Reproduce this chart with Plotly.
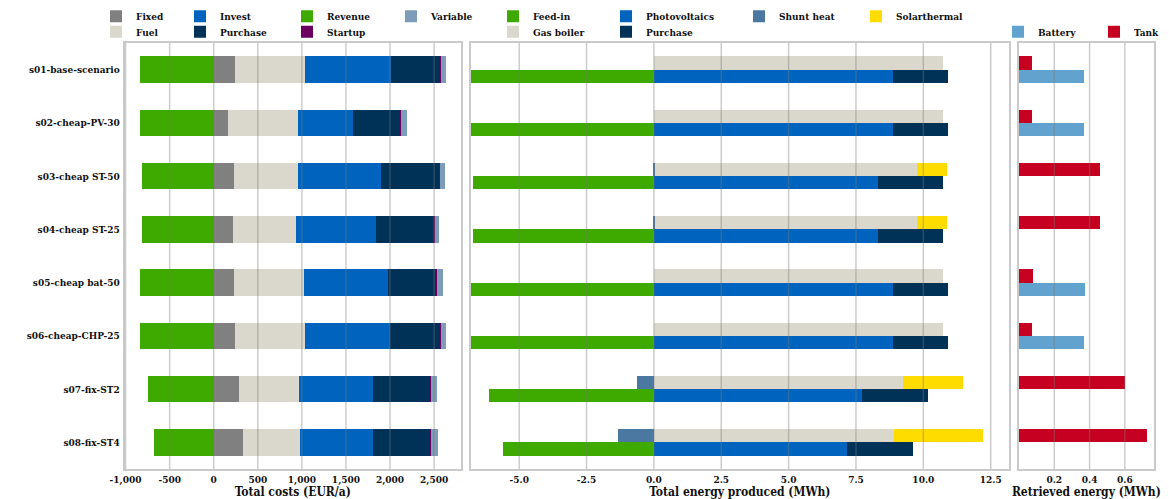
import plotly.graph_objects as go

# ---------------------------------------------------------------- data
scenarios = [
    "s01-base-scenario", "s02-cheap-PV-30", "s03-cheap ST-50", "s04-cheap ST-25",
    "s05-cheap bat-50", "s06-cheap-CHP-25", "s07-fix-ST2", "s08-fix-ST4",
]

# Total costs (EUR/a)
cost_fixed = [238, 159, 223, 212, 227, 238, 280, 322]
cost_fuel = [790, 790, 722, 718, 786, 790, 677, 650]
cost_invest = [975, 620, 945, 900, 960, 967, 839, 824]
cost_purchase = [567, 548, 661, 665, 548, 567, 661, 661]
cost_startup = [5, 5, 5, 4, 5, 5, 5, 5]
cost_variable = [56, 63, 63, 52, 67, 64, 63, 78]
cost_revenue = [-839, -839, -823, -823, -839, -839, -755, -687]

# Heat production (MWh)
heat_gas_boiler = [10.73, 10.73, 9.75, 9.75, 10.73, 10.73, 9.23, 8.91]
heat_solarthermal = [0, 0, 1.10, 1.10, 0, 0, 2.24, 3.31]
heat_shunt = [0, 0, -0.05, -0.05, 0, 0, -0.64, -1.35]

# Electricity production (MWh)
el_feed_in = [-6.79, -6.79, -6.72, -6.72, -6.79, -6.79, -6.14, -5.60]
el_pv = [8.86, 8.87, 8.32, 8.32, 8.87, 8.87, 7.73, 7.16]
el_purchase = [2.03, 2.03, 2.40, 2.40, 2.03, 2.03, 2.42, 2.44]

# Retrieved storage energy (MWh)
st_tank = [0.072, 0.072, 0.458, 0.458, 0.078, 0.072, 0.60, 0.727]
st_battery = [0.369, 0.369, None, None, 0.372, 0.369, None, None]

# axis ticks
cost_ticks = [-1000, -500, 0, 500, 1000, 1500, 2000, 2500]
cost_ticktext = ["-1,000", "-500", "0", "500", "1,000", "1,500", "2,000", "2,500"]
energy_ticks = [-5.0, -2.5, 0.0, 2.5, 5.0, 7.5, 10.0, 12.5]
energy_ticktext = ["-5.0", "-2.5", "0.0", "2.5", "5.0", "7.5", "10.0", "12.5"]
storage_ticks = [0.2, 0.4, 0.6]
storage_ticktext = ["0.2", "0.4", "0.6"]

# ---------------------------------------------------------------- styling
C = {
    "grey": "#808080", "beige": "#dad8cc", "blue": "#0064be", "navy": "#003157",
    "green": "#3eaa00", "purple": "#6c005f", "steel": "#7d9cba", "shunt": "#4b78a0",
    "yellow": "#ffdc00", "battery": "#62a2cf", "tank": "#c60020",
}
FONT = dict(family="DejaVu Serif Condensed, DejaVu Serif, serif", size=10,
            color="#111111", weight="bold")
W, H = 1169, 499

# panel extents in pixels
LEFT_PX = (124.5, 461.0)
MID_PX = (470.7, 1009.0)
RIGHT_PX = (1019.0, 1153.7)
TOP_PX, BOT_PX = 43.0, 469.0

# legend entry placement: (text start px, row centre px)
ROW1, ROW2 = 16.3, 31.7
LEGEND_POS = {
    "Fixed": (136, ROW1), "Fuel": (136, ROW2),
    "Invest": (220, ROW1), "Purchase (EUR)": (220, ROW2),
    "Revenue": (327, ROW1), "Startup": (327, ROW2),
    "Variable": (431, ROW1),
    "Feed-in": (533, ROW1), "Gas boiler": (533, ROW2),
    "Photovoltaics": (646, ROW1), "Purchase (MWh)": (646, ROW2),
    "Shunt heat": (779, ROW1), "Solarthermal": (896, ROW1),
    "Battery": (1038, ROW2), "Tank": (1134, ROW2),
}
TEXT_OFFSET = 40

fig = go.Figure()
legend_ids = {}


def cumulative_bases(series):
    bases, run = [], [0.0] * len(series[0])
    for s in series:
        bases.append(list(run))
        run = [r + (v or 0) for r, v in zip(run, s)]
    return bases


def add_bar(key, values, base, color, xaxis, offset, width):
    lid = "legend" if not legend_ids else "legend%d" % (len(legend_ids) + 1)
    legend_ids[key] = lid
    fig.add_trace(go.Bar(
        y=scenarios, x=values, base=base, orientation="h", name=key.split(" (")[0],
        marker=dict(color=color, line=dict(width=0)),
        offset=offset, width=width,
        xaxis=xaxis, yaxis="y" if xaxis == "x" else "y" + xaxis[1:],
        legend=lid, showlegend=True,
    ))


# costs: one stacked bar per scenario
cost_pos = [cost_fixed, cost_fuel, cost_invest, cost_purchase, cost_startup, cost_variable]
cost_names = ["Fixed", "Fuel", "Invest", "Purchase (EUR)", "Startup", "Variable"]
cost_cols = [C["grey"], C["beige"], C["blue"], C["navy"], C["purple"], C["steel"]]
for name, vals, b, col in zip(cost_names, cost_pos, cumulative_bases(cost_pos), cost_cols):
    add_bar(name, vals, b, col, "x", -0.25, 0.5)
add_bar("Revenue", cost_revenue, [0] * 8, C["green"], "x", -0.25, 0.5)

# energy: heat bar on top, electricity bar below
add_bar("Feed-in", el_feed_in, [0] * 8, C["green"], "x2", 0.0, 0.25)
add_bar("Gas boiler", heat_gas_boiler, [0] * 8, C["beige"], "x2", -0.25, 0.25)
add_bar("Photovoltaics", el_pv, [0] * 8, C["blue"], "x2", 0.0, 0.25)
add_bar("Purchase (MWh)", el_purchase, el_pv, C["navy"], "x2", 0.0, 0.25)
add_bar("Shunt heat", heat_shunt, [0] * 8, C["shunt"], "x2", -0.25, 0.25)
add_bar("Solarthermal", heat_solarthermal, heat_gas_boiler, C["yellow"], "x2", -0.25, 0.25)

# storage
add_bar("Battery", st_battery, [0] * 8, C["battery"], "x3", 0.0, 0.25)
add_bar("Tank", st_tank, [0] * 8, C["tank"], "x3", -0.25, 0.25)

# ---------------------------------------------------------------- axes
def dom(px):
    return [px[0] / W, px[1] / W]


ydom = [1 - BOT_PX / H, 1 - TOP_PX / H]
frame = dict(showline=True, mirror=True, linecolor="#cacaca", linewidth=1.6,
             showgrid=False, zeroline=False, ticks="", fixedrange=True, automargin=False)

fig.update_layout(
    width=W, height=H, margin=dict(l=0, r=0, t=0, b=0),
    paper_bgcolor="white", plot_bgcolor="white", font=FONT,
    barmode="overlay", bargap=0,
    xaxis=dict(domain=dom(LEFT_PX), range=[-1012, 2805], tickvals=cost_ticks,
               ticktext=cost_ticktext, title=dict(text="Total costs (EUR/a)", standoff=2),
               **frame),
    xaxis2=dict(domain=dom(MID_PX), range=[-6.8, 13.18], tickvals=energy_ticks,
                ticktext=energy_ticktext,
                title=dict(text="Total energy produced (MWh)", standoff=2), **frame),
    xaxis3=dict(domain=dom(RIGHT_PX), range=[0, 0.7634], tickvals=storage_ticks,
                ticktext=storage_ticktext,
                title=dict(text="Retrieved energy (MWh)", standoff=2), **frame),
    yaxis=dict(domain=ydom, anchor="x", type="category", categoryarray=scenarios,
               range=[7.5, -0.5], ticklabelstandoff=1, **frame),
    yaxis2=dict(domain=ydom, anchor="x2", type="category", categoryarray=scenarios,
                range=[7.5, -0.5], showticklabels=False, **frame),
    yaxis3=dict(domain=ydom, anchor="x3", type="category", categoryarray=scenarios,
                range=[7.5, -0.5], showticklabels=False, **frame),
)

# vertical grid lines drawn over the bars
for xref, ticks in (("x", cost_ticks), ("x2", energy_ticks), ("x3", storage_ticks)):
    for t in ticks:
        fig.add_shape(type="line", xref=xref, yref=xref.replace("x", "y") + " domain",
                      x0=t, x1=t, y0=0, y1=1, layer="above",
                      line=dict(color="rgba(120,120,120,0.38)", width=1.5))

# one single-entry legend per series, arranged in a column grid
for key, lid in legend_ids.items():
    tx, yc = LEGEND_POS[key]
    fig.layout[lid] = dict(
        x=(tx - TEXT_OFFSET) / W, xanchor="left", y=1 - yc / H, yanchor="middle",
        orientation="v", bgcolor="rgba(0,0,0,0)", borderwidth=0,
        font=FONT, itemclick=False, itemdoubleclick=False,
    )

fig.write_html("out.html")
